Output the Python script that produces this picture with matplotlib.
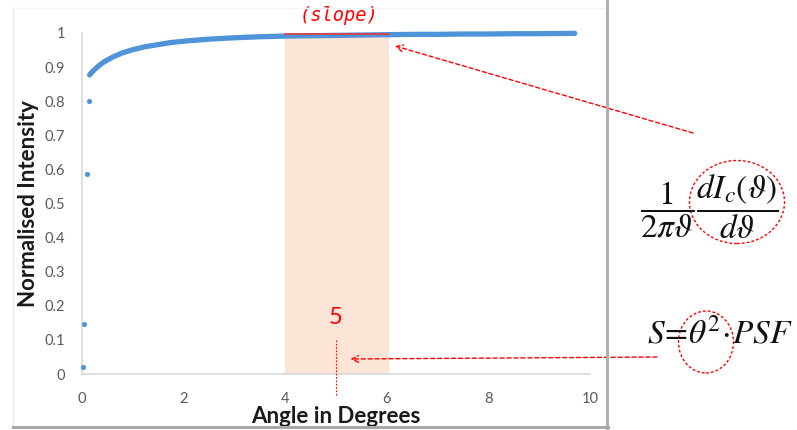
import matplotlib
matplotlib.use("Agg")
import matplotlib.pyplot as plt
from matplotlib.patches import Ellipse
from matplotlib.lines import Line2D

# isolated points near the origin
start_x = [0.01, 0.04, 0.10, 0.14]
start_y = [0.02, 0.147, 0.587, 0.800]

# the dense curve of points
curve_x = [0.15, 0.20, 0.30, 0.40, 0.50, 0.60, 0.80, 1.00, 1.25, 1.50, 1.75,
           2.00, 2.50, 3.00, 3.50, 4.00, 4.50, 5.00, 5.50, 6.00, 6.50, 7.00,
           7.50, 8.00, 8.50, 9.00, 9.70]
curve_y = [0.877, 0.886, 0.900, 0.912, 0.921, 0.929, 0.942, 0.951, 0.960, 0.966, 0.972,
           0.976, 0.982, 0.986, 0.989, 0.991, 0.992, 0.993, 0.994, 0.995, 0.996, 0.996,
           0.997, 0.997, 0.998, 0.998, 0.999]

xticks = [0, 2, 4, 6, 8, 10]
yticks = [0, 0.1, 0.2, 0.3, 0.4, 0.5, 0.6, 0.7, 0.8, 0.9, 1]
ytick_labels = ["0", "0.1", "0.2", "0.3", "0.4", "0.5", "0.6", "0.7", "0.8", "0.9", "1"]

span_x = [4.0, 6.05]
span_top = 0.994
marker_x = 5

blue = "#4F93D8"
red = "#FF0000"

plt.rcParams["font.family"] = ["Lato", "DejaVu Sans"]
plt.rcParams["mathtext.fontset"] = "stix"

W, H = 797, 430
fig = plt.figure(figsize=(W / 100, H / 100), dpi=100)


def fp(x, y):
    # top-down pixel position -> figure fraction
    return (x / W, 1 - y / H)


ax = fig.add_axes([82 / W, 1 - 374 / H, (590 - 82) / W, (374 - 33) / H])

# chart panel frame
fig.add_artist(Line2D([13 / W, 13 / W], [fp(0, 8)[1], fp(0, 428)[1]], color="#ececec", lw=1))
fig.add_artist(Line2D([13 / W, 607 / W], [fp(0, 8)[1]] * 2, color="#f2f2f2", lw=1))
fig.add_artist(Line2D([607 / W, 607 / W], [fp(0, 0)[1], fp(0, 428)[1]], color="#b0b0b0", lw=2.2))
fig.add_artist(Line2D([13 / W, 608 / W], [fp(0, 427)[1]] * 2, color="#a8a8a8", lw=2.2))

# shaded window and slope segment
ax.fill_between(span_x, 0, span_top, color="#FCE4D6", lw=0, zorder=1)
ax.plot(curve_x, curve_y, color=blue, lw=3.8, solid_capstyle="round",
        solid_joinstyle="round", zorder=3, clip_on=False)
ax.scatter(start_x, start_y, s=14, color=blue, zorder=3, clip_on=False, lw=0)
ax.plot(span_x, [span_top + 0.003] * 2, color="#E8383D", lw=1.2, zorder=4)
ax.text(5.05, 1.022, "(slope)", color=red, fontsize=13.5, style="italic",
        family="DejaVu Sans Mono", ha="center", va="bottom")

ax.text(marker_x, 0.135, "5", color=red, fontsize=17, ha="center", va="bottom")
ax.plot([marker_x, marker_x], [0.1, -0.063], color=red, lw=0.8,
        linestyle=(0, (1.5, 1.5)), clip_on=False, zorder=4)

ax.set_xlim(0, 10)
ax.set_ylim(0, 1)
ax.set_xticks(xticks)
ax.set_yticks(yticks)
ax.set_yticklabels(ytick_labels)
ax.tick_params(length=0, colors="#595959", labelsize=10.5)
ax.tick_params(axis="x", pad=13)
ax.tick_params(axis="y", pad=12)
for s in ["top", "right"]:
    ax.spines[s].set_visible(False)
for s in ["left", "bottom"]:
    ax.spines[s].set_color("#d9d9d9")
    ax.spines[s].set_linewidth(1.2)

ax.set_xlabel("Angle in Degrees", fontsize=16, fontweight="bold", color="#1a1a1a", labelpad=0)
ax.set_ylabel("Normalised Intensity", fontsize=16, fontweight="bold", color="#1a1a1a", labelpad=4)

# arrows
arrow = dict(arrowstyle="->", color=red, lw=1.0, linestyle=(0, (3, 2)),
             mutation_scale=12, shrinkA=0, shrinkB=0)
ax.annotate("", xy=(6.16, 0.962), xycoords="data", xytext=fp(693, 133),
            textcoords="figure fraction", arrowprops=arrow, annotation_clip=False)
ax.annotate("", xy=(5.28, 0.044), xycoords="data", xytext=fp(657, 357),
            textcoords="figure fraction", arrowprops=arrow, annotation_clip=False)

# formulas
fig.text(*fp(709, 207), r"$\dfrac{1}{2\pi\vartheta}\dfrac{dI_c(\vartheta)}{d\vartheta}$",
         fontsize=24, ha="center", va="center", color="#111111")
fig.text(*fp(720, 333), r"$S\!=\!\theta^2\!\cdot\! PSF$",
         fontsize=24, ha="center", va="center", color="#111111")

fig.add_artist(Ellipse(fp(737, 202), 95 / W, 83 / H, transform=fig.transFigure,
                       fill=False, ec=red, lw=1.0, linestyle=(0, (2, 1.5))))
fig.add_artist(Ellipse(fp(706, 342), 55 / W, 62 / H, transform=fig.transFigure,
                       fill=False, ec=red, lw=1.0, linestyle=(0, (2, 1.5))))

fig.savefig("out.png", dpi=100)
